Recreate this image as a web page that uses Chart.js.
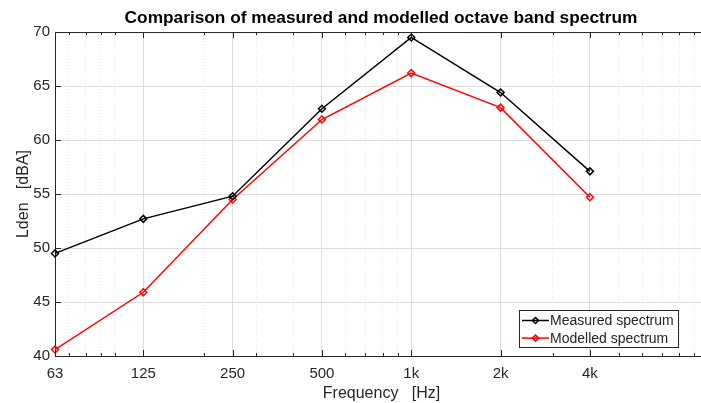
<!DOCTYPE html>
<html>
<head>
<meta charset="utf-8">
<script src="https://cdn.jsdelivr.net/npm/chart.js@4/dist/chart.umd.min.js"></script>
<style>
  html, body { margin: 0; padding: 0; background: #fff; overflow: hidden; }
  #wrap { width: 701px; height: 403px; overflow: hidden; }
</style>
</head>
<body>
<div id="wrap"><canvas id="chart" width="762" height="403"></canvas></div>
<script>
// octave band centre frequencies [Hz]
const freqs = [63, 125, 250, 500, 1000, 2000, 4000];
const measured = [49.5, 52.7, 54.8, 62.9, 69.5, 64.4, 57.1];
const modelled = [40.6, 45.9, 54.5, 61.9, 66.2, 63.0, 54.7];

const xTickValues = [63, 125, 250, 500, 1000, 2000, 4000];
const xTickLabels = ['63', '125', '250', '500', '1k', '2k', '4k'];
const xMinorValues = [70, 80, 90, 100, 200, 300, 400, 600, 700, 800, 900, 3000, 5000, 6000, 7000, 8000, 9000];
const yTicks = [40, 45, 50, 55, 60, 65, 70];

const FONT = '"Liberation Sans", Arial, Helvetica, sans-serif';
const TEXT = '#262626';

// 菱形标记
function diamond(ctx, x, y, r) {
  ctx.beginPath();
  ctx.moveTo(x, y - r);
  ctx.lineTo(x + r, y);
  ctx.lineTo(x, y + r);
  ctx.lineTo(x - r, y);
  ctx.closePath();
  ctx.stroke();
}

// MATLAB style box: top border + inward tick marks
const axesBox = {
  id: 'axesBox',
  afterDatasetsDraw(chart) {
    const ctx = chart.ctx;
    const a = chart.chartArea;
    const x = chart.scales.x, xm = chart.scales.xMinor, y = chart.scales.y;
    ctx.save();
    ctx.strokeStyle = TEXT;
    ctx.lineWidth = 1;
    ctx.beginPath();
    ctx.moveTo(a.left, a.top + 0.5);
    ctx.lineTo(a.right, a.top + 0.5);
    xTickValues.forEach(v => {
      const px = Math.round(x.getPixelForValue(v)) + 0.5;
      ctx.moveTo(px, a.bottom); ctx.lineTo(px, a.bottom - 6);
      ctx.moveTo(px, a.top); ctx.lineTo(px, a.top + 6);
    });
    xMinorValues.forEach(v => {
      const px = Math.round(xm.getPixelForValue(v)) + 0.5;
      ctx.moveTo(px, a.bottom); ctx.lineTo(px, a.bottom - 3);
      ctx.moveTo(px, a.top); ctx.lineTo(px, a.top + 3);
    });
    yTicks.forEach(v => {
      const py = Math.round(y.getPixelForValue(v)) + 0.5;
      ctx.moveTo(a.left, py); ctx.lineTo(a.left + 6, py);
    });
    ctx.stroke();
    ctx.restore();
  }
};

// legend inside the axes, bottom right
const insideLegend = {
  id: 'insideLegend',
  afterDraw(chart) {
    const ctx = chart.ctx;
    const a = chart.chartArea;
    const w = 160, h = 38;
    const left = Math.round(a.right - 29 - w), top = Math.round(a.bottom - 8 - h);
    ctx.save();
    ctx.fillStyle = '#fff';
    ctx.fillRect(left, top, w, h);
    ctx.strokeStyle = TEXT;
    ctx.lineWidth = 1;
    ctx.strokeRect(left + 0.5, top + 0.5, w - 1, h - 1);
    ctx.font = '14px ' + FONT;
    ctx.textBaseline = 'middle';
    chart.data.datasets.forEach((ds, i) => {
      const yy = top + 10.5 + i * 17.6;
      ctx.strokeStyle = ds.borderColor;
      ctx.lineWidth = 1.5;
      ctx.beginPath();
      ctx.moveTo(left + 3, yy);
      ctx.lineTo(left + 30, yy);
      ctx.stroke();
      diamond(ctx, left + 16.5, yy, 3);
      ctx.fillStyle = TEXT;
      ctx.fillText(ds.label, left + 31, yy + 1);
    });
    ctx.restore();
  }
};

const chart = new Chart(document.getElementById('chart'), {
  type: 'line',
  data: {
    datasets: [
      {
        label: 'Measured spectrum',
        data: freqs.map((f, i) => ({ x: f, y: measured[i] })),
        borderColor: '#000000',
        borderWidth: 1.5,
        pointStyle: 'rectRot',
        pointRadius: 3.5,
        pointBorderWidth: 1.5,
        pointBackgroundColor: 'rgba(0,0,0,0)',
        pointBorderColor: '#000000',
        tension: 0
      },
      {
        label: 'Modelled spectrum',
        data: freqs.map((f, i) => ({ x: f, y: modelled[i] })),
        borderColor: '#ff0000',
        borderWidth: 1.5,
        pointStyle: 'rectRot',
        pointRadius: 3.5,
        pointBorderWidth: 1.5,
        pointBackgroundColor: 'rgba(0,0,0,0)',
        pointBorderColor: '#ff0000',
        tension: 0
      }
    ]
  },
  options: {
    responsive: false,
    animation: false,
    clip: false,
    layout: { padding: 0 },
    plugins: {
      legend: { display: false },
      tooltip: { enabled: false },
      title: {
        display: true,
        text: 'Comparison of measured and modelled octave band spectrum',
        color: '#000',
        font: { family: FONT, size: 17.3, weight: 'bold' },
        padding: { top: 8, bottom: 3.3 }
      }
    },
    scales: {
      x: {
        type: 'logarithmic',
        position: 'bottom',
        min: 63,
        max: 10000,
        afterBuildTicks: s => { s.ticks = xTickValues.map(v => ({ value: v })); },
        afterFit: s => { s.height = 47; },
        ticks: {
          autoSkip: false,
          maxRotation: 0,
          color: TEXT,
          font: { family: FONT, size: 15 },
          padding: 9,
          callback: (v) => {
            const i = xTickValues.indexOf(v);
            return i >= 0 ? xTickLabels[i] : '';
          }
        },
        grid: { color: '#dedede', lineWidth: 1, drawTicks: false },
        border: { display: true, color: TEXT, width: 1 },
        title: {
          display: true,
          text: 'Frequency   [Hz]',
          color: TEXT,
          font: { family: FONT, size: 16 },
          padding: { top: 0, bottom: 0 }
        }
      },
      xMinor: {
        type: 'logarithmic',
        position: 'bottom',
        min: 63,
        max: 10000,
        afterBuildTicks: s => { s.ticks = xMinorValues.map(v => ({ value: v })); },
        afterFit: s => { s.height = 0; },
        ticks: { display: false },
        grid: { color: '#e4e4e4', lineWidth: 1, drawTicks: false },
        border: { display: false, dash: [1, 2] }
      },
      y: {
        min: 40,
        max: 70,
        afterBuildTicks: s => { s.ticks = yTicks.map(v => ({ value: v })); },
        afterFit: s => { s.width = 55; },
        ticks: {
          color: TEXT,
          font: { family: FONT, size: 15 },
          padding: 5
        },
        grid: { color: '#dedede', lineWidth: 1, drawTicks: false },
        border: { display: true, color: TEXT, width: 1 },
        title: {
          display: true,
          text: 'Lden   [dBA]',
          color: TEXT,
          font: { family: FONT, size: 16 },
          padding: { top: 14, bottom: 0 }
        }
      },
      // empty right-hand box so the axes end near x=708 and the title stays centred on them
      yRight: {
        position: 'right',
        min: 40,
        max: 70,
        afterFit: s => { s.width = 54; },
        ticks: { display: false },
        grid: { display: false, drawOnChartArea: false },
        border: { display: false }
      }
    }
  },
  plugins: [axesBox, insideLegend]
});
</script>
</body>
</html>
